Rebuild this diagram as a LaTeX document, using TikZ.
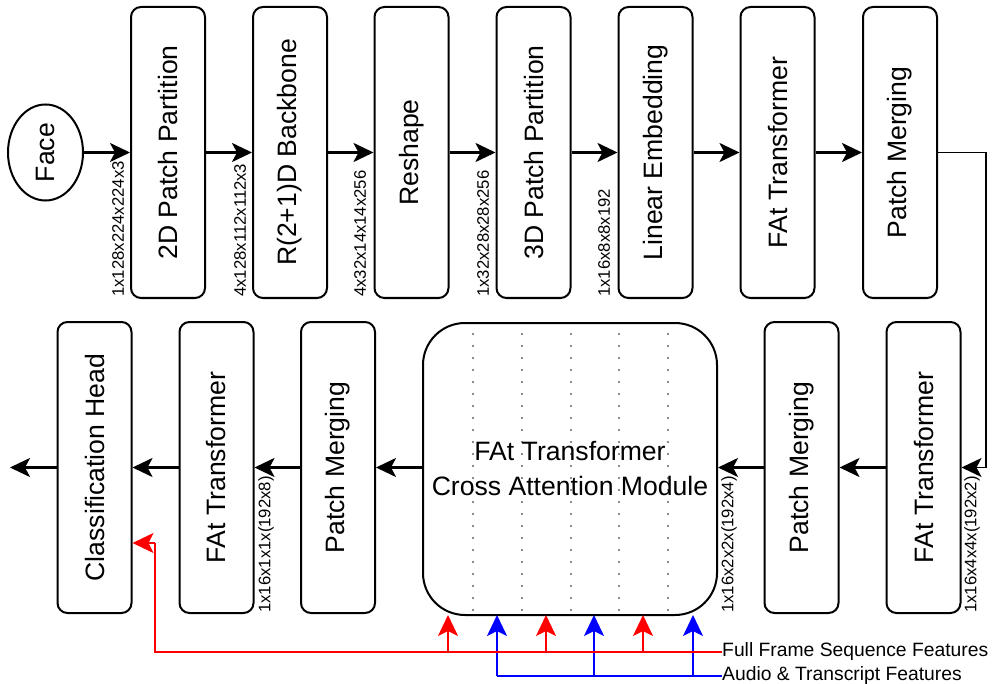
\documentclass[tikz,border=0pt]{standalone}
\usepackage{fontspec}
\setmainfont{Liberation Sans}
\usetikzlibrary{arrows.meta,shapes.geometric}
\begin{document}
\begin{tikzpicture}[x=1pt,y=1pt,
  box/.style={draw,line width=2pt,rounded corners=10pt,minimum width=74pt,minimum height=291pt,inner sep=0pt,font=\fontsize{26.6}{35}\selectfont},
  conn/.style={line width=2.5pt,-{Stealth[length=20pt,width=19pt,inset=5pt]}},
  thinconn/.style={line width=1.5pt,-{Stealth[length=20pt,width=19pt,inset=5pt]}},
  dimlab/.style={rotate=90,anchor=west,inner sep=0pt,font=\fontsize{16.7}{20}\selectfont},
  legendlab/.style={anchor=west,inner sep=0pt,font=\fontsize{19.3}{23}\selectfont},
  feat/.style={line width=2pt,-{Stealth[length=21pt,width=20pt,inset=5pt]}},
  guide/.style={draw=black!45,line width=2pt,dash pattern=on 2pt off 10pt}
]
\useasboundingbox (0,0) rectangle (992,-684);

% top row
\node[draw,ellipse,line width=2pt,minimum width=75pt,minimum height=96pt,inner sep=0pt,font=\fontsize{26.6}{35}\selectfont] (face) at (45.5,-152.5) {\rotatebox{90}{Face}};
\node[box] (b1) at (168,-152.5) {\rotatebox{90}{2D Patch Partition}};
\node[box] (b2) at (290,-152.5) {\rotatebox{90}{R(2+1)D Backbone}};
\node[box] (b3) at (411.5,-152.5) {\rotatebox{90}{Reshape}};
\node[box] (b4) at (533.5,-152.5) {\rotatebox{90}{3D Patch Partition}};
\node[box] (b5) at (655.5,-152.5) {\rotatebox{90}{Linear Embedding}};
\node[box] (b6) at (777.5,-152.5) {\rotatebox{90}{FAt Transformer}};
\node[box] (b7) at (900,-152.5) {\rotatebox{90}{Patch Merging}};

\draw[conn] (face) -- (b1);
\draw[conn] (b1) -- (b2);
\draw[conn] (b2) -- (b3);
\draw[conn] (b3) -- (b4);
\draw[conn] (b4) -- (b5);
\draw[conn] (b5) -- (b6);
\draw[conn] (b6) -- (b7);

\node[dimlab] (d1) at (118,-297) {1x128x224x224x3};
\node[dimlab] (d2) at (240,-297) {4x128x112x112x3};
\node[dimlab] (d3) at (360,-297) {4x32x14x14x256};
\node[dimlab] (d4) at (483,-297) {1x32x28x28x256};
\node[dimlab] (d5) at (604,-297) {1x16x8x8x192};

% module guides
\foreach \gx in {473,522,571,619,668}
  \draw[guide] (\gx,-333) -- (\gx,-615);

% bottom row
\node[box] (c1) at (94.5,-467.5) {\rotatebox{90}{Classification Head}};
\node[box] (c2) at (216.5,-467.5) {\rotatebox{90}{FAt Transformer}};
\node[box] (c3) at (338,-467.5) {\rotatebox{90}{Patch Merging}};
\node[box,minimum width=294pt,minimum height=292pt,rounded corners=42pt,align=center] (mod) at (570,-469) {FAt Transformer\\Cross Attention Module};
\node[box] (c5) at (801.5,-467.5) {\rotatebox{90}{Patch Merging}};
\node[box] (c6) at (923.5,-467.5) {\rotatebox{90}{FAt Transformer}};
\coordinate (out) at (10,-467.5);

\draw[thinconn] (b7.east) -- (986,-152.5) |- (c6.east);
\draw[conn] (c6) -- (c5);
\draw[conn] (c5.west) -- (mod.east |- c5.west);
\draw[conn] (mod.west |- c3.east) -- (c3.east);
\draw[conn] (c3) -- (c2);
\draw[conn] (c2) -- (c1);
\draw[conn] (c1) -- (out);

\node[dimlab] (e1) at (266,-613) {1x16x1x1x(192x8)};
\node[dimlab] (e2) at (729,-613) {1x16x2x2x(192x4)};
\node[dimlab] (e3) at (972,-613) {1x16x4x4x(192x2)};

% features
\node[legendlab] (ffs) at (722,-652) {Full Frame Sequence Features};
\node[legendlab] (ats) at (722,-676) {Audio \& Transcript Features};

\draw[blue,line width=2pt] (ats.west) -- (497,-676);
\foreach \fx in {497,594,693}
  \draw[blue,feat] (\fx,-676) -- (\fx,-615);
\draw[red,line width=2pt] (ffs.west) -- (155,-652) -- (155,-543);
\draw[red,feat] (155,-543) -- (c1.east |- 0,-543);
\foreach \fx in {448,546,643}
  \draw[red,feat] (\fx,-652) -- (\fx,-615);
\end{tikzpicture}
\end{document}
